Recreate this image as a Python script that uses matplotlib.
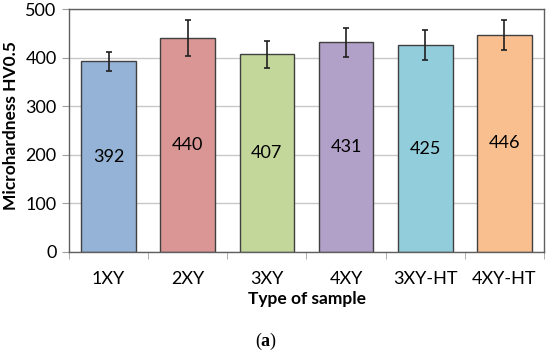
import numpy as np
import matplotlib.pyplot as plt

samples = ["1XY", "2XY", "3XY", "4XY", "3XY-HT", "4XY-HT"]
hardness = [392, 440, 407, 431, 425, 446]
errors = [19, 37, 28, 30, 31, 31]
colors = ["#95B3D7", "#DA9694", "#C4D79B", "#B1A0C7", "#92CDDC", "#FABF8F"]

plt.rcParams['font.family'] = ['Lato', 'DejaVu Sans']
plt.rcParams['mathtext.fontset'] = 'custom'
plt.rcParams['mathtext.rm'] = 'Liberation Serif'
plt.rcParams['mathtext.bf'] = 'Liberation Serif:bold'

fig = plt.figure(figsize=(5.5, 3.54), dpi=100)
ax = fig.add_axes([69 / 550, 1 - 251.7 / 354, (544 - 69) / 550, (251.7 - 9) / 354])

x = np.arange(len(samples))
ax.bar(x, hardness, width=0.69, color=colors, edgecolor="#404040", linewidth=1.0, zorder=2)
ax.errorbar(x, hardness, yerr=errors, fmt="none", ecolor="#202020", elinewidth=1.2,
            capsize=2.5, capthick=1.2, zorder=3)
for xi, v in zip(x, hardness):
    ax.text(xi, v / 2, str(v), ha="center", va="center", fontsize=13, color="black", zorder=4)

ax.set_xlim(-0.5, len(samples) - 0.5)
ax.set_ylim(0, 500)
ax.set_yticks(np.arange(0, 501, 100))
ax.yaxis.grid(True, color="#C8C8C8", linewidth=1.0, zorder=0)
ax.set_axisbelow(True)

ax.set_xticks(x)
ax.set_xticklabels(samples, fontsize=13)
ax.set_xticks(np.arange(-0.5, len(samples)), minor=True)
ax.tick_params(axis="x", which="major", length=0, pad=14)
ax.tick_params(axis="x", which="minor", length=5, color="#A0A0A0")
ax.tick_params(axis="y", length=5, color="#A0A0A0", labelsize=13, pad=4)

for s in ax.spines.values():
    s.set_color("#606060")
    s.set_linewidth(1.0)

ax.set_ylabel("Microhardness HV0.5", fontsize=12.5, fontweight="bold")
ax.yaxis.set_label_coords(-50 / 475, (251.7 - 125.5) / 242.7)
ax.set_xlabel("Type of sample", fontsize=12.5, fontweight="bold", labelpad=3)

fig.text(266 / 550, 1 - 341 / 354, r"$\mathrm{(}\mathbf{a}\mathrm{)}$", ha="center", va="center", fontsize=13)
fig.savefig("out.png", dpi=100)
